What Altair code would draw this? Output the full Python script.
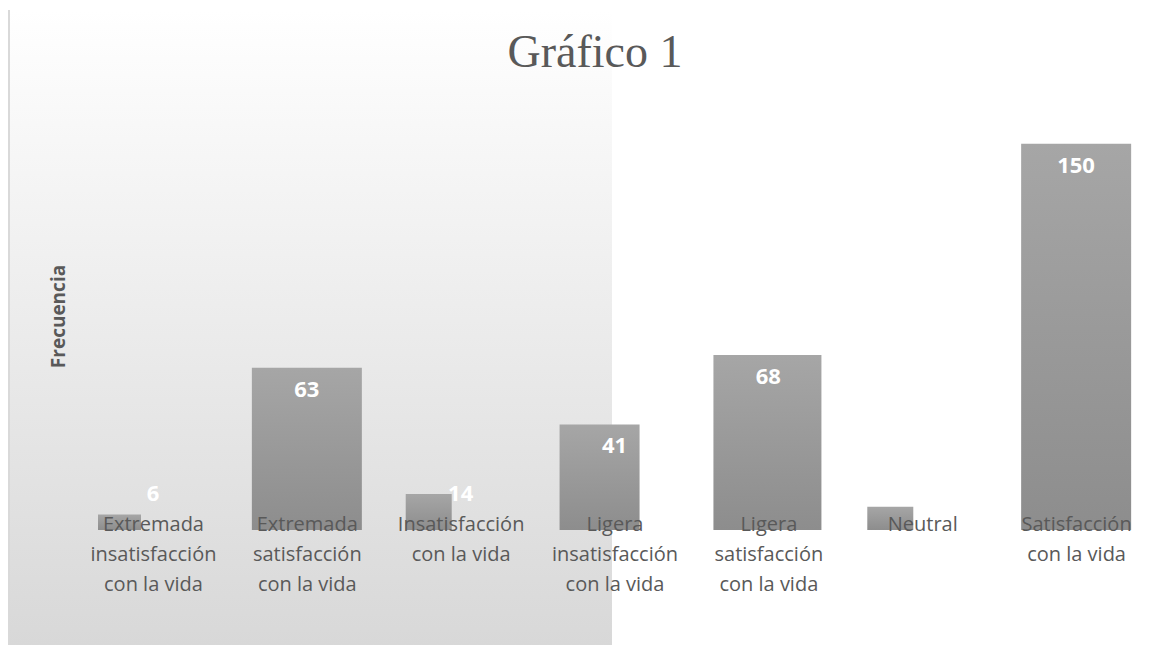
import altair as alt
import pandas as pd

# ---- data ----
titulo = "Gráfico 1"
categorias = [
    "Extremada insatisfacción con la vida",
    "Extremada satisfacción con la vida",
    "Insatisfacción con la vida",
    "Ligera insatisfacción con la vida",
    "Ligera satisfacción con la vida",
    "Neutral",
    "Satisfacción con la vida",
]
frecuencias = [6, 63, 14, 41, 68, 9, 150]
lineas_etiqueta = [
    ["Extremada", "insatisfacción", "con la vida"],
    ["Extremada", "satisfacción", "con la vida"],
    ["Insatisfacción", "con la vida"],
    ["Ligera", "insatisfacción", "con la vida"],
    ["Ligera", "satisfacción", "con la vida"],
    ["Neutral"],
    ["Satisfacción", "con la vida"],
]

# ---- style ----
PLOT_W = 1077
PLOT_H = 412
bar_width_px = [43, 110, 46, 80, 108, 46, 110]
bar_left_px = 22
slot = PLOT_W / len(categorias)
FONT = "Open Sans"
GREY_TXT = "#595959"

df = pd.DataFrame({"categoria": categorias, "frecuencia": frecuencias})
df["idx"] = range(len(categorias))
df["x0"] = df["idx"] + bar_left_px / slot
df["x1"] = df["x0"] + [w / slot for w in bar_width_px]

# multi-line label expression
expr = ""
for cat, lines in zip(categorias, lineas_etiqueta):
    arr = "[" + ",".join("'" + l + "'" for l in lines) + "]"
    expr += f"datum.label == '{cat}' ? {arr} : "
expr += "datum.label"

y_scale = alt.Scale(domain=[0, 160], nice=False, zero=True)
y_axis = alt.Axis(title="Frecuencia", labels=False, ticks=False, domain=False,
                  grid=False, titleFont=FONT, titleFontSize=19,
                  titleFontWeight="bold", titleColor=GREY_TXT, titlePadding=8,
                  titleY=198, zindex=2)

base = alt.Chart(df)
one = pd.DataFrame({"a": [0]})

bg = alt.Chart(one).mark_rect(
    color=alt.LinearGradient(
        gradient="linear",
        stops=[alt.GradientStop(color="#ffffff", offset=0),
               alt.GradientStop(color="#d8d8d8", offset=1)],
        x1=0, x2=0, y1=0, y2=1,
    )
).encode(
    x=alt.value(-67), x2=alt.value(536), y=alt.value(-108), y2=alt.value(527)
)

edge = alt.Chart(one).mark_rule(
    color="#d9d9d9", strokeWidth=2
).encode(x=alt.value(-67), y=alt.value(-108), y2=alt.value(527))

title = alt.Chart(one).mark_text(
    font="Liberation Serif", fontSize=46, color=GREY_TXT, align="center", baseline="alphabetic"
).encode(x=alt.value(519), y=alt.value(-51), text=alt.value(titulo))

bars = base.mark_bar(
    color=alt.LinearGradient(
        gradient="linear",
        stops=[alt.GradientStop(color="#a6a6a6", offset=0),
               alt.GradientStop(color="#8d8d8d", offset=1)],
        x1=0, x2=0, y1=0, y2=1,
    )
).encode(
    x=alt.X("x0:Q", scale=alt.Scale(domain=[0, len(categorias)], nice=False, zero=False), axis=None),
    x2="x1:Q",
    y=alt.Y("frecuencia:Q", scale=y_scale, axis=y_axis),
    y2=alt.datum(0),
)

labels = base.transform_calculate(
    label_y="max(datum.frecuencia - 8.5, 14)"
).mark_text(
    color="white", font=FONT, fontSize=22, fontWeight="bold", baseline="middle", align="center"
).encode(
    x=alt.X("categoria:N", sort=None, scale=alt.Scale(paddingInner=0, paddingOuter=0),
            axis=alt.Axis(title=None, domain=False, ticks=False, labelAngle=0,
                          labelFont=FONT, labelFontSize=20, labelColor=GREY_TXT,
                          labelLineHeight=30, labelPadding=-16, labelBaseline="top",
                          labelExpr=expr, labelLimit=400, labelOverlap=False, zindex=2)),
    y=alt.Y("label_y:Q", scale=y_scale, axis=y_axis),
    text="frecuencia:Q",
)

chart = alt.layer(bg, edge, title, bars, labels).resolve_scale(x="independent").properties(
    width=PLOT_W,
    height=PLOT_H,
    autosize="none",
    padding={"left": 68, "top": 110, "right": 9, "bottom": 115},
    background="white",
).configure_view(stroke=None)

chart.save("out.html", embed_options={"renderer": "svg", "actions": False})
